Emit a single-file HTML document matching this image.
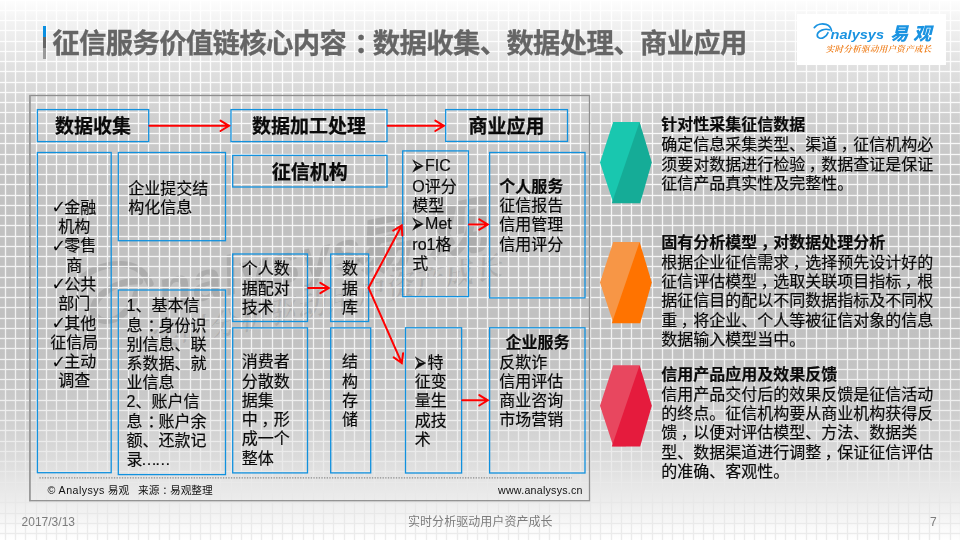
<!DOCTYPE html>
<html lang="zh-CN"><head><meta charset="utf-8">
<title>征信服务价值链核心内容</title>
<style>
html,body{margin:0;padding:0;}
body{width:960px;height:540px;position:relative;overflow:hidden;background:#fff;
 font-family:"Liberation Sans","Noto Sans CJK SC",sans-serif;color:#000;}
svg.bg,svg.dg{position:absolute;left:0;top:0;}
.tx{position:absolute;left:0;top:0;width:960px;height:540px;will-change:transform;}
.t{position:absolute;white-space:nowrap;font-size:16px;line-height:19.3px;color:#0a0a0a;-webkit-text-stroke:0.18px #0a0a0a;}
.t b{font-weight:bold;}
.h{font-size:19px;line-height:24px;font-weight:bold;text-align:center;-webkit-text-stroke:0.25px #0a0a0a;}
.c{text-align:center;}
.title{position:absolute;left:52.3px;top:26.2px;font-size:27.4px;letter-spacing:-0.68px;line-height:36px;font-weight:bold;color:#656565;-webkit-text-stroke:0.3px #656565;white-space:nowrap;}
.bar{position:absolute;left:43px;width:3px;}
.sm{position:absolute;white-space:nowrap;font-size:10.67px;line-height:14px;color:#111;}
.ft{position:absolute;white-space:nowrap;font-size:12px;line-height:16px;color:#7c7c7c;}
.logo{position:absolute;left:797px;top:14.3px;width:148.6px;height:50.7px;background:#fff;}
.ck{font-family:"DejaVu Sans",sans-serif;font-size:18px;line-height:1px;margin-right:-3.3px;position:relative;left:-1.2px;top:0.5px;-webkit-text-stroke:0;}
.ar{font-family:"DejaVu Sans",sans-serif;display:inline-block;width:14.3px;margin-left:-1.5px;line-height:1px;transform:scale(1,1.8);transform-origin:0 62%;}
.up{position:relative;top:-1.6px;}
.p{position:relative;left:3.6px;}
.q{position:relative;left:5px;}
.hd{display:block;line-height:20.2px;}
</style></head><body>
<svg class="bg" width="960" height="540" viewBox="0 0 960 540">
<defs><linearGradient id="gc" gradientUnits="userSpaceOnUse" x1="0" y1="0" x2="0" y2="540"><stop offset="0.0000" stop-color="#fefefe"/><stop offset="0.0370" stop-color="#f3f3f3"/><stop offset="0.1111" stop-color="#e3e3e3"/><stop offset="0.1852" stop-color="#d5d5d5"/><stop offset="0.2500" stop-color="#cbcbcb"/><stop offset="0.3333" stop-color="#c3c3c3"/><stop offset="0.4074" stop-color="#c1c1c1"/><stop offset="0.6111" stop-color="#c1c1c1"/><stop offset="0.6852" stop-color="#c4c4c4"/><stop offset="0.7500" stop-color="#cbcbcb"/><stop offset="0.8148" stop-color="#d5d5d5"/><stop offset="0.8519" stop-color="#dcdcdc"/><stop offset="0.8889" stop-color="#e5e5e5"/><stop offset="0.9259" stop-color="#ececec"/><stop offset="0.9537" stop-color="#f3f3f3"/><stop offset="0.9815" stop-color="#fbfbfb"/><stop offset="1.0000" stop-color="#ffffff"/></linearGradient><linearGradient id="gl" gradientUnits="userSpaceOnUse" x1="0" y1="0" x2="0" y2="540"><stop offset="0.0000" stop-color="#ffffff"/><stop offset="0.1852" stop-color="#fafafa"/><stop offset="0.4630" stop-color="#f4f4f4"/><stop offset="0.7037" stop-color="#f0f0f0"/><stop offset="0.8148" stop-color="#ececec"/><stop offset="0.8889" stop-color="#e9e9e9"/><stop offset="0.9444" stop-color="#e8e8e8"/><stop offset="1.0000" stop-color="#ececec"/></linearGradient></defs>
<rect x="0" y="0" width="960" height="540" fill="url(#gc)"/>
<g transform="translate(27 253) rotate(-12)" fill="#000" fill-opacity="0.105" stroke="none">
<g transform="translate(-33 -9) scale(1.25 1.12)"><path d="M58.8 46.2C68 34.7 85 31.6 98.6 35.4C110.5 38.8 115.6 46.6 117.6 57.8" fill="none" stroke="#000" stroke-opacity="0.105" stroke-width="5.8" stroke-linecap="round"/>
<path d="M109.8 53.7C95.2 48.3 71.4 56.8 69 70.4C67.3 82.3 81.6 85.7 91.8 78.9C98.6 74.5 103.7 68.7 105.4 63.6" fill="none" stroke="#000" stroke-opacity="0.105" stroke-width="5.8" stroke-linecap="round"/></g>
<text x="120" y="83.3" font-family="Liberation Sans, sans-serif" font-style="italic" font-weight="bold" font-size="55" letter-spacing="1">nalysys</text>
<text x="317" y="88.4" font-family="Liberation Sans, Noto Sans CJK SC, sans-serif" font-style="italic" font-weight="900" font-size="61" letter-spacing="14">易观</text>
<text x="102" y="120.7" font-family="Liberation Serif, Noto Serif CJK SC, serif" font-style="italic" font-weight="600" font-size="29" letter-spacing="1">实时分析驱动用户资产成长</text>
</g>
<path d="M4.85 0h1.30v540h-1.30zM14.85 0h1.30v540h-1.30zM24.85 0h1.30v540h-1.30zM35.85 0h1.30v540h-1.30zM45.85 0h1.30v540h-1.30zM55.85 0h1.30v540h-1.30zM65.85 0h1.30v540h-1.30zM76.85 0h1.30v540h-1.30zM86.85 0h1.30v540h-1.30zM96.85 0h1.30v540h-1.30zM106.85 0h1.30v540h-1.30zM117.85 0h1.30v540h-1.30zM127.85 0h1.30v540h-1.30zM137.85 0h1.30v540h-1.30zM147.85 0h1.30v540h-1.30zM158.85 0h1.30v540h-1.30zM168.85 0h1.30v540h-1.30zM178.85 0h1.30v540h-1.30zM189.85 0h1.30v540h-1.30zM199.85 0h1.30v540h-1.30zM209.85 0h1.30v540h-1.30zM219.85 0h1.30v540h-1.30zM230.85 0h1.30v540h-1.30zM240.85 0h1.30v540h-1.30zM250.85 0h1.30v540h-1.30zM260.85 0h1.30v540h-1.30zM271.85 0h1.30v540h-1.30zM281.85 0h1.30v540h-1.30zM291.85 0h1.30v540h-1.30zM302.85 0h1.30v540h-1.30zM312.85 0h1.30v540h-1.30zM322.85 0h1.30v540h-1.30zM332.85 0h1.30v540h-1.30zM343.85 0h1.30v540h-1.30zM353.85 0h1.30v540h-1.30zM363.85 0h1.30v540h-1.30zM373.85 0h1.30v540h-1.30zM384.85 0h1.30v540h-1.30zM394.85 0h1.30v540h-1.30zM404.85 0h1.30v540h-1.30zM414.85 0h1.30v540h-1.30zM425.85 0h1.30v540h-1.30zM435.85 0h1.30v540h-1.30zM445.85 0h1.30v540h-1.30zM456.85 0h1.30v540h-1.30zM466.85 0h1.30v540h-1.30zM476.85 0h1.30v540h-1.30zM486.85 0h1.30v540h-1.30zM497.85 0h1.30v540h-1.30zM507.85 0h1.30v540h-1.30zM517.85 0h1.30v540h-1.30zM527.85 0h1.30v540h-1.30zM538.85 0h1.30v540h-1.30zM548.85 0h1.30v540h-1.30zM558.85 0h1.30v540h-1.30zM569.85 0h1.30v540h-1.30zM579.85 0h1.30v540h-1.30zM589.85 0h1.30v540h-1.30zM599.85 0h1.30v540h-1.30zM610.85 0h1.30v540h-1.30zM620.85 0h1.30v540h-1.30zM630.85 0h1.30v540h-1.30zM640.85 0h1.30v540h-1.30zM651.85 0h1.30v540h-1.30zM661.85 0h1.30v540h-1.30zM671.85 0h1.30v540h-1.30zM682.85 0h1.30v540h-1.30zM692.85 0h1.30v540h-1.30zM702.85 0h1.30v540h-1.30zM712.85 0h1.30v540h-1.30zM723.85 0h1.30v540h-1.30zM733.85 0h1.30v540h-1.30zM743.85 0h1.30v540h-1.30zM753.85 0h1.30v540h-1.30zM764.85 0h1.30v540h-1.30zM774.85 0h1.30v540h-1.30zM784.85 0h1.30v540h-1.30zM794.85 0h1.30v540h-1.30zM805.85 0h1.30v540h-1.30zM815.85 0h1.30v540h-1.30zM825.85 0h1.30v540h-1.30zM836.85 0h1.30v540h-1.30zM846.85 0h1.30v540h-1.30zM856.85 0h1.30v540h-1.30zM866.85 0h1.30v540h-1.30zM877.85 0h1.30v540h-1.30zM887.85 0h1.30v540h-1.30zM897.85 0h1.30v540h-1.30zM907.85 0h1.30v540h-1.30zM918.85 0h1.30v540h-1.30zM928.85 0h1.30v540h-1.30zM938.85 0h1.30v540h-1.30zM949.85 0h1.30v540h-1.30zM959.85 0h1.30v540h-1.30z" fill="url(#gl)"/>
<rect x="0" y="-0.15" width="960" height="1.30" fill="#ffffff"/>
<rect x="0" y="9.85" width="960" height="1.30" fill="#fefefe"/>
<rect x="0" y="19.85" width="960" height="1.30" fill="#fefefe"/>
<rect x="0" y="29.85" width="960" height="1.30" fill="#fdfdfd"/>
<rect x="0" y="40.85" width="960" height="1.30" fill="#fdfdfd"/>
<rect x="0" y="50.85" width="960" height="1.30" fill="#fcfcfc"/>
<rect x="0" y="60.85" width="960" height="1.30" fill="#fcfcfc"/>
<rect x="0" y="70.85" width="960" height="1.30" fill="#fbfbfb"/>
<rect x="0" y="81.85" width="960" height="1.30" fill="#fbfbfb"/>
<rect x="0" y="91.85" width="960" height="1.30" fill="#fafafa"/>
<rect x="0" y="101.85" width="960" height="1.30" fill="#fafafa"/>
<rect x="0" y="111.85" width="960" height="1.30" fill="#f9f9f9"/>
<rect x="0" y="122.85" width="960" height="1.30" fill="#f9f9f9"/>
<rect x="0" y="132.85" width="960" height="1.30" fill="#f9f9f9"/>
<rect x="0" y="142.85" width="960" height="1.30" fill="#f8f8f8"/>
<rect x="0" y="153.85" width="960" height="1.30" fill="#f8f8f8"/>
<rect x="0" y="163.85" width="960" height="1.30" fill="#f7f7f7"/>
<rect x="0" y="173.85" width="960" height="1.30" fill="#f7f7f7"/>
<rect x="0" y="183.85" width="960" height="1.30" fill="#f7f7f7"/>
<rect x="0" y="194.85" width="960" height="1.30" fill="#f6f6f6"/>
<rect x="0" y="204.85" width="960" height="1.30" fill="#f6f6f6"/>
<rect x="0" y="214.85" width="960" height="1.30" fill="#f5f5f5"/>
<rect x="0" y="224.85" width="960" height="1.30" fill="#f5f5f5"/>
<rect x="0" y="235.85" width="960" height="1.30" fill="#f5f5f5"/>
<rect x="0" y="245.85" width="960" height="1.30" fill="#f4f4f4"/>
<rect x="0" y="255.85" width="960" height="1.30" fill="#f4f4f4"/>
<rect x="0" y="265.85" width="960" height="1.30" fill="#f3f3f3"/>
<rect x="0" y="276.85" width="960" height="1.30" fill="#f3f3f3"/>
<rect x="0" y="286.85" width="960" height="1.30" fill="#f3f3f3"/>
<rect x="0" y="296.85" width="960" height="1.30" fill="#f3f3f3"/>
<rect x="0" y="306.85" width="960" height="1.30" fill="#f2f2f2"/>
<rect x="0" y="317.85" width="960" height="1.30" fill="#f2f2f2"/>
<rect x="0" y="327.85" width="960" height="1.30" fill="#f2f2f2"/>
<rect x="0" y="337.85" width="960" height="1.30" fill="#f1f1f1"/>
<rect x="0" y="347.85" width="960" height="1.30" fill="#f1f1f1"/>
<rect x="0" y="358.85" width="960" height="1.30" fill="#f1f1f1"/>
<rect x="0" y="368.85" width="960" height="1.30" fill="#f0f0f0"/>
<rect x="0" y="378.85" width="960" height="1.30" fill="#f0f0f0"/>
<rect x="0" y="388.85" width="960" height="1.30" fill="#efefef"/>
<rect x="0" y="399.85" width="960" height="1.30" fill="#efefef"/>
<rect x="0" y="409.85" width="960" height="1.30" fill="#eeeeee"/>
<rect x="0" y="419.85" width="960" height="1.30" fill="#ededed"/>
<rect x="0" y="429.85" width="960" height="1.30" fill="#ededed"/>
<rect x="0" y="440.85" width="960" height="1.30" fill="#ececec"/>
<rect x="0" y="450.85" width="960" height="1.30" fill="#ebebeb"/>
<rect x="0" y="460.85" width="960" height="1.30" fill="#eaeaea"/>
<rect x="0" y="470.85" width="960" height="1.30" fill="#eaeaea"/>
<rect x="0" y="481.85" width="960" height="1.30" fill="#e9e9e9"/>
<rect x="0" y="491.85" width="960" height="1.30" fill="#e9e9e9"/>
<rect x="0" y="501.85" width="960" height="1.30" fill="#e8e8e8"/>
<rect x="0" y="512.85" width="960" height="1.30" fill="#e8e8e8"/>
<rect x="0" y="522.85" width="960" height="1.30" fill="#eaeaea"/>
<rect x="0" y="532.85" width="960" height="1.30" fill="#ebebeb"/>
</svg>
<svg class="dg" width="960" height="540" viewBox="0 0 960 540">
<rect x="30.0" y="95.5" width="559.5" height="405.2" fill="none" stroke="#8f8f8f" stroke-width="1.3"/>
<line x1="29.7" y1="95" x2="29.7" y2="501.3" stroke="#9a9a9a" stroke-width="1.4"/>
<line x1="39.4" y1="477.8" x2="572" y2="477.8" stroke="#8c8c8c" stroke-width="1.33" stroke-dasharray="1.33 1.33"/>
<rect x="37.4" y="109.6" width="111.3" height="32.0" fill="none" stroke="#1191de" stroke-width="1.3"/>
<rect x="231.0" y="109.6" width="156.0" height="32.0" fill="none" stroke="#1191de" stroke-width="1.3"/>
<rect x="445.7" y="109.6" width="121.8" height="31.8" fill="none" stroke="#1191de" stroke-width="1.3"/>
<rect x="37.4" y="152.5" width="73.8" height="320.2" fill="none" stroke="#1191de" stroke-width="1.3"/>
<rect x="118.3" y="152.5" width="107.2" height="88.2" fill="none" stroke="#1191de" stroke-width="1.3"/>
<rect x="118.3" y="290.0" width="107.2" height="184.6" fill="none" stroke="#1191de" stroke-width="1.3"/>
<rect x="232.7" y="155.4" width="154.3" height="31.6" fill="none" stroke="#1191de" stroke-width="1.3"/>
<rect x="232.7" y="254.0" width="74.8" height="67.5" fill="none" stroke="#1191de" stroke-width="1.3"/>
<rect x="232.7" y="327.9" width="74.8" height="145.0" fill="none" stroke="#1191de" stroke-width="1.3"/>
<rect x="330.7" y="254.0" width="37.9" height="67.5" fill="none" stroke="#1191de" stroke-width="1.3"/>
<rect x="330.7" y="327.9" width="40.0" height="145.0" fill="none" stroke="#1191de" stroke-width="1.3"/>
<rect x="402.7" y="150.9" width="65.7" height="145.7" fill="none" stroke="#1191de" stroke-width="1.3"/>
<rect x="405.5" y="327.8" width="56.1" height="145.2" fill="none" stroke="#1191de" stroke-width="1.3"/>
<rect x="489.6" y="152.5" width="95.4" height="145.4" fill="none" stroke="#1191de" stroke-width="1.3"/>
<rect x="489.6" y="327.8" width="95.4" height="145.2" fill="none" stroke="#1191de" stroke-width="1.3"/>
<path d="M149.4 125.8L229.2 125.8M220.5 131.0L229.0 125.8L220.5 120.6" fill="none" stroke="#ff0000" stroke-width="2" stroke-linecap="round" stroke-linejoin="miter"/>
<path d="M387.7 125.8L444.0 125.8M435.3 131.0L443.8 125.8L435.3 120.6" fill="none" stroke="#ff0000" stroke-width="2" stroke-linecap="round" stroke-linejoin="miter"/>
<path d="M308.2 288.0L329.0 288.0M320.3 293.2L328.8 288.0L320.3 282.8" fill="none" stroke="#ff0000" stroke-width="2" stroke-linecap="round" stroke-linejoin="miter"/>
<path d="M368.6 287.8L401.8 225.3M402.3 235.4L401.7 225.5L393.2 230.6" fill="none" stroke="#ff0000" stroke-width="2" stroke-linecap="round" stroke-linejoin="miter"/>
<path d="M368.6 287.8L401.9 363.3M393.7 357.4L401.8 363.1L403.1 353.2" fill="none" stroke="#ff0000" stroke-width="2" stroke-linecap="round" stroke-linejoin="miter"/>
<path d="M469.0 224.5L488.0 224.5M479.3 229.7L487.8 224.5L479.3 219.3" fill="none" stroke="#ff0000" stroke-width="2" stroke-linecap="round" stroke-linejoin="miter"/>
<path d="M462.2 400.3L488.0 400.3M479.3 405.5L487.8 400.3L479.3 395.1" fill="none" stroke="#ff0000" stroke-width="2" stroke-linecap="round" stroke-linejoin="miter"/>
<polygon points="600,162.5 613.2,122.0 639.6,122.0 646,162.5 626,203.0 613.3,203.0" fill="#19c7af"/>
<polygon points="639.6,122.0 651.8,162.5 640.2,203.3 611.8,203.3" fill="#15ac97"/>
<polygon points="600,282.5 613.2,242.0 639.6,242.0 646,282.5 626,323.0 613.3,323.0" fill="#f79646"/>
<polygon points="639.6,242.0 651.8,282.5 640.2,323.3 611.8,323.3" fill="#ff7300"/>
<polygon points="600,405.8 613.2,365.3 639.6,365.3 646,405.8 626,446.3 613.3,446.3" fill="#e8475f"/>
<polygon points="639.6,365.3 651.8,405.8 640.2,446.6 611.8,446.6" fill="#e51b3d"/>
</svg>
<div class="tx">
<div class="bar" style="top:26px;height:11px;background:#0b8fe0"></div>
<div class="bar" style="top:37px;height:11px;background:#666"></div>
<div class="bar" style="top:48px;height:10.7px;background:#999"></div>
<div class="title">征信服务价值链核心内容<span style="position:relative;left:8px">：</span>数据收集、数据处理、商业应用</div>
<div class="t h" style="left:37.4px;width:111.3px;top:114.7px">数据收集</div>
<div class="t h" style="left:231px;width:156px;top:114.7px">数据加工处理</div>
<div class="t h" style="left:445.7px;width:121.8px;top:114.7px">商业应用</div>
<div class="t h" style="left:232.7px;width:154.3px;top:160.6px">征信机构</div>
<div class="t c" style="left:37.4px;width:73.8px;top:197.8px"><span class="ck">✓</span>金融<br>机构<br><span class="ck">✓</span>零售<br>商<br><span class="ck">✓</span>公共<br>部门<br><span class="ck">✓</span>其他<br>征信局<br><span class="ck">✓</span>主动<br>调查</div>
<div class="t" style="left:128.3px;top:178.9px">企业提交结<br>构化信息</div>
<div class="t" style="left:126.5px;top:296.3px;line-height:19.2px">1、基本信<br>息<span class="q">：</span>身份识<br>别信息、联<br>系数据、就<br>业信息<br>2、账户信<br>息<span class="q">：</span>账户余<br>额、还款记<br>录<span style="letter-spacing:-2.3px;margin-left:-1.5px">……</span></div>
<div class="t" style="left:241.8px;top:259.4px">个人数<br>据配对<br>技术</div>
<div class="t" style="left:241.8px;top:352.3px">消费者<br>分散数<br>据集<br>中<span class="p">，</span>形<br>成一个<br>整体</div>
<div class="t" style="left:342px;top:259.4px">数<br>据<br>库</div>
<div class="t" style="left:342px;top:352.3px">结<br>构<br>存<br>储</div>
<div class="t" style="left:412.3px;top:157.5px"><span class="up"><span class="ar">➢</span>FIC</span><br>O评分<br>模型<br><span class="up"><span class="ar">➢</span>Met</span><br>ro1格<br>式</div>
<div class="t" style="left:414.7px;top:352.9px"><span class="ar">➢</span>特<br>征变<br>量生<br>成技<br>术</div>
<div class="t" style="left:499.2px;top:176.9px"><b>个人服务</b><br>征信报告<br>信用管理<br>信用评分</div>
<div class="t" style="left:499.2px;top:333.3px"><b style="margin-left:6.3px">企业服务</b><br>反欺诈<br>信用评估<br>商业咨询<br>市场营销</div>
<div class="sm" style="left:47.5px;top:483.3px"><span style="letter-spacing:0.45px">© Analysys</span> 易观&nbsp;&nbsp;&nbsp;来源<span style="position:relative;left:3px">：</span>易观整理</div>
<div class="sm" style="left:498px;top:483.3px;letter-spacing:0.24px">www.analysys.cn</div>
<div class="t" style="left:661.2px;top:115.2px"><b class="hd">针对性采集征信数据</b>确定信息采集类型、渠道<span class="p">，</span>征信机构必<br>须要对数据进行检验<span class="p">，</span>数据查证是保证<br>征信产品真实性及完整性。</div>
<div class="t" style="left:661.2px;top:232.7px"><b class="hd">固有分析模型<span class="p">，</span>对数据处理分析</b>根据企业征信需求<span class="p">，</span>选择预先设计好的<br>征信评估模型<span class="p">，</span>选取关联项目指标<span class="p">，</span>根<br>据征信目的配以不同数据指标及不同权<br>重<span class="p">，</span>将企业、个人等被征信对象的信息<br>数据输入模型当中。</div>
<div class="t" style="left:661.2px;top:364.5px"><b class="hd">信用产品应用及效果反馈</b>信用产品交付后的效果反馈是征信活动<br>的终点。征信机构要从商业机构获得反<br>馈<span class="p">，</span>以便对评估模型、方法、数据类<br>型、数据渠道进行调整<span class="p">，</span>保证征信评估<br>的准确、客观性。</div>
<div class="ft" style="left:21.6px;top:513.7px">2017/3/13</div>
<div class="ft" style="left:408px;top:513.9px;letter-spacing:0.05px">实时分析驱动用户资产成长</div>
<div class="ft" style="left:930px;top:513.7px">7</div>
<div class="logo">
<svg width="149" height="51" viewBox="0 0 149 51" style="position:absolute;left:0;top:0">
<path d="M17.3 13.6C20 10.2 25 9.3 29 10.4C32.5 11.4 34 13.7 34.6 17" fill="none" stroke="#1a93e1" stroke-width="1.7" stroke-linecap="round"/>
<path d="M32.3 15.8C28 14.2 21 16.7 20.3 20.7C19.8 24.2 24 25.2 27 23.2C29 21.9 30.5 20.2 31 18.7" fill="none" stroke="#1a93e1" stroke-width="1.7" stroke-linecap="round"/>
<text x="33.6" y="24.5" font-family="Liberation Sans, sans-serif" font-style="italic" font-weight="bold" font-size="13.6" fill="#1a93e1" textLength="53.5" lengthAdjust="spacingAndGlyphs">nalysys</text>
<text x="93.3" y="26" font-family="Liberation Sans, Noto Sans CJK SC, sans-serif" font-style="italic" font-weight="900" font-size="18" fill="#1a93e1" textLength="41" lengthAdjust="spacing">易观</text>
<text x="28.8" y="37.9" font-family="Liberation Serif, Noto Serif CJK SC, serif" font-style="italic" font-weight="600" font-size="8.5" fill="#ee7a14" textLength="105.5" lengthAdjust="spacing">实时分析驱动用户资产成长</text>
</svg></div>
</div>
</body></html>
